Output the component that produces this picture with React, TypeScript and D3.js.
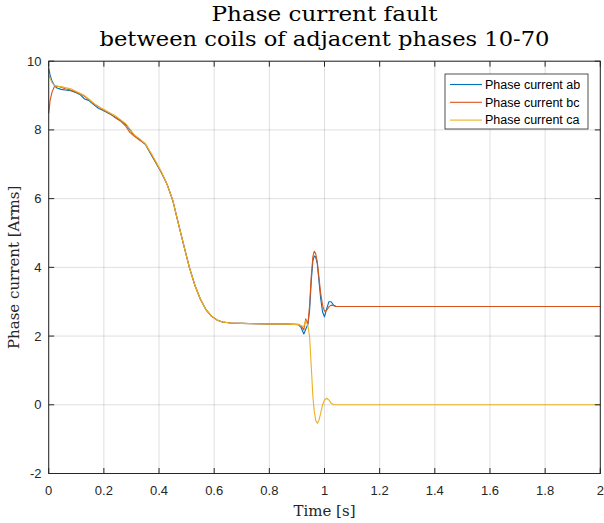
import React from "react";
import * as d3 from "d3";

const timeS: number[] = [
  0, 0.005, 0.012, 0.02, 0.03, 0.045, 0.06, 0.08, 0.1, 0.115, 0.13, 0.145, 0.16, 0.18, 0.2,
  0.22, 0.24, 0.26, 0.28, 0.295, 0.31, 0.33, 0.35, 0.37, 0.39, 0.41, 0.43, 0.45, 0.47, 0.49,
  0.51, 0.53, 0.55, 0.57, 0.59, 0.61, 0.63, 0.66, 0.7, 0.75, 0.8, 0.85, 0.89, 0.905, 0.915,
  0.925, 0.932, 0.94, 0.946, 0.952, 0.958, 0.963, 0.968, 0.974, 0.98, 0.986, 0.993, 1.0,
  1.008, 1.016, 1.024, 1.033, 1.042, 1.05, 1.1, 1.5, 2.0,
];

const currentAB: number[] = [
  9.79, 9.6, 9.42, 9.3, 9.22, 9.18, 9.16, 9.14, 9.08, 9.02, 8.9, 8.86, 8.76, 8.63, 8.56,
  8.47, 8.38, 8.28, 8.15, 8.0, 7.84, 7.72, 7.58, 7.3, 7.02, 6.74, 6.4, 5.94, 5.28, 4.63,
  4.0, 3.48, 3.07, 2.77, 2.58, 2.47, 2.41, 2.38, 2.37, 2.36, 2.35, 2.35, 2.34, 2.33, 2.25,
  2.06, 2.2, 2.35, 2.75, 3.6, 4.2, 4.33, 4.3, 4.1, 3.6, 3.1, 2.7, 2.56,
  2.8, 3.0, 3.0, 2.9, 2.86, 2.86, 2.86, 2.86, 2.86,
];

const currentBC: number[] = [
  8.48, 8.85, 9.1, 9.25, 9.28, 9.24, 9.2, 9.16, 9.1, 9.05, 8.98, 8.88, 8.78, 8.68, 8.56,
  8.5, 8.36, 8.26, 8.1, 7.92, 7.82, 7.7, 7.6, 7.32, 7.04, 6.74, 6.4, 5.95, 5.28, 4.63,
  4.0, 3.48, 3.07, 2.77, 2.58, 2.47, 2.41, 2.38, 2.37, 2.36, 2.35, 2.35, 2.34, 2.34, 2.3,
  2.18, 2.5, 2.35, 2.9, 3.75, 4.32, 4.47, 4.4, 4.15, 3.7, 3.25, 2.9, 2.72,
  2.75, 2.85, 2.9, 2.88, 2.86, 2.86, 2.86, 2.86, 2.86,
];

const currentCA: number[] = [
  9.6, 9.5, 9.38, 9.3, 9.27, 9.26, 9.23, 9.2, 9.12, 9.06, 9.0, 8.9, 8.8, 8.67, 8.6,
  8.5, 8.42, 8.3, 8.18, 8.02, 7.86, 7.74, 7.6, 7.34, 7.06, 6.76, 6.4, 5.95, 5.28, 4.63,
  4.0, 3.48, 3.07, 2.77, 2.58, 2.47, 2.41, 2.38, 2.37, 2.36, 2.35, 2.35, 2.34, 2.34, 2.3,
  2.28, 2.45, 2.3, 1.98, 1.11, 0.23, -0.2, -0.45, -0.54, -0.45, -0.25, 0.0, 0.14,
  0.19, 0.14, 0.05, 0.0, 0.0, 0.0, 0.0, 0.0, 0.0,
];

const seriesNames: string[] = ["Phase current ab", "Phase current bc", "Phase current ca"];
const seriesColors: string[] = ["#0072BD", "#D95319", "#EDB120"];
const xTicks: number[] = [0, 0.2, 0.4, 0.6, 0.8, 1, 1.2, 1.4, 1.6, 1.8, 2];
const yTicks: number[] = [-2, 0, 2, 4, 6, 8, 10];
const titleLines: string[] = ["Phase current fault", "between coils of adjacent phases 10-70"];

const W = 604;
const H = 523;
const left = 48.7;
const right = 600.3;
const top = 61.2;
const bottom = 473.5;

export default function App() {
  const x = d3.scaleLinear().domain([0, 2]).range([left, right]);
  const y = d3.scaleLinear().domain([-2, 10]).range([bottom, top]);
  const allSeries = [currentAB, currentBC, currentCA];
  const line = d3
    .line<number>()
    .x((_, i) => x(timeS[i]))
    .y((v) => y(v));
  const axisColor = "#262626";
  const tickFont = "'Liberation Sans', Arial, Helvetica, sans-serif";
  const serif = "'DejaVu Serif', 'Century Schoolbook', serif";
  const tickLen = 5.5;
  const cx = (left + right) / 2;
  const cy = (top + bottom) / 2;

  return (
    <svg
      width={W}
      height={H}
      style={{ position: "absolute", left: 0, top: 0, background: "#fff" }}
    >
      <rect x={0} y={0} width={W} height={H} fill="#fff" />
      {/* grid */}
      {xTicks.map((t) => (
        <line key={"gx" + t} x1={x(t)} x2={x(t)} y1={top} y2={bottom} stroke={axisColor} strokeOpacity={0.15} strokeWidth={1} />
      ))}
      {yTicks.map((t) => (
        <line key={"gy" + t} x1={left} x2={right} y1={y(t)} y2={y(t)} stroke={axisColor} strokeOpacity={0.15} strokeWidth={1} />
      ))}
      {/* data */}
      <g fill="none" strokeWidth={1.1} strokeLinejoin="round">
        {allSeries.map((s, i) => (
          <path key={i} d={line(s) || ""} stroke={seriesColors[i]} />
        ))}
      </g>
      {/* box */}
      <rect x={left} y={top} width={right - left} height={bottom - top} fill="none" stroke={axisColor} strokeWidth={1} />
      {/* ticks */}
      {xTicks.map((t) => (
        <g key={"tx" + t}>
          <line x1={x(t)} x2={x(t)} y1={bottom} y2={bottom - tickLen} stroke={axisColor} />
          <line x1={x(t)} x2={x(t)} y1={top} y2={top + tickLen} stroke={axisColor} />
          <text x={x(t)} y={495} textAnchor="middle" fontFamily={tickFont} fontSize={13} fill={axisColor}>
            {String(t)}
          </text>
        </g>
      ))}
      {yTicks.map((t) => (
        <g key={"ty" + t}>
          <line x1={left} x2={left + tickLen} y1={y(t)} y2={y(t)} stroke={axisColor} />
          <line x1={right} x2={right - tickLen} y1={y(t)} y2={y(t)} stroke={axisColor} />
          <text x={41.5} y={y(t) + 4.5} textAnchor="end" fontFamily={tickFont} fontSize={13} fill={axisColor}>
            {String(t)}
          </text>
        </g>
      ))}
      {/* title */}
      <text x={cx} y={21} textAnchor="middle" fontFamily={serif} fontSize={19.5} fill="#000" textLength={226} lengthAdjust="spacingAndGlyphs">
        {titleLines[0]}
      </text>
      <text x={cx} y={46} textAnchor="middle" fontFamily={serif} fontSize={19.5} fill="#000" textLength={450} lengthAdjust="spacingAndGlyphs">
        {titleLines[1]}
      </text>
      {/* axis labels */}
      <text x={cx} y={516} textAnchor="middle" fontFamily={serif} fontSize={15} fill={axisColor}>
        Time [s]
      </text>
      <text
        transform={`translate(18.5, ${cy}) rotate(-90)`}
        textAnchor="middle"
        fontFamily={serif}
        fontSize={15}
        fill={axisColor}
      >
        Phase current [Arms]
      </text>
      {/* legend */}
      <g>
        <rect x={445} y={74} width={143} height={55} fill="#fff" stroke={axisColor} strokeWidth={0.8} />
        {seriesNames.map((n, i) => (
          <g key={n}>
            <line x1={450} x2={482} y1={84.5 + i * 17.8} y2={84.5 + i * 17.8} stroke={seriesColors[i]} strokeWidth={1.1} />
            <text x={485} y={84.5 + i * 17.8 + 4.3} fontFamily={tickFont} fontSize={12.5} fill="#000">
              {n}
            </text>
          </g>
        ))}
      </g>
    </svg>
  );
}
